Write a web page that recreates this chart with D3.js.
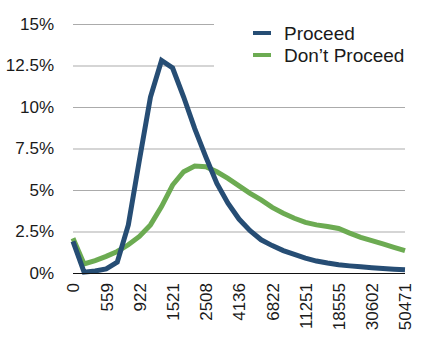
<!DOCTYPE html>
<html>
<head>
<meta charset="utf-8">
<script src="https://cdn.jsdelivr.net/npm/d3@7"></script>
<style>
  body { margin: 0; background: #fff; }
  text { font-family: "Liberation Sans", Arial, Helvetica, sans-serif; fill: #1a1a1a; }
</style>
</head>
<body>
<div id="chart"></div>
<script>
// bins (only every third one gets a label)
var categories = ["0", "401", "473", "559", "660", "780", "922", "1089", "1287", "1521",
    "1796", "2122", "2508", "2962", "3500", "4136", "4886", "5773", "6822", "8059",
    "9521", "11251", "13291", "15702", "18555", "21920", "25895", "30602", "36151", "42707", "50471"];

// share of deals in each bin, %
var proceed = [1.9, 0.05, 0.12, 0.25, 0.65, 2.9, 6.8, 10.6, 12.8, 12.35,
    10.6, 8.7, 7.0, 5.4, 4.2, 3.25, 2.55, 2.0, 1.65, 1.35,
    1.12, 0.9, 0.72, 0.6, 0.5, 0.43, 0.37, 0.32, 0.27, 0.23, 0.2];
var dontProceed = [2.1, 0.55, 0.75, 1.0, 1.3, 1.7, 2.2, 2.9, 4.0, 5.3,
    6.1, 6.45, 6.4, 6.1, 5.7, 5.25, 4.8, 4.4, 3.95, 3.6,
    3.3, 3.05, 2.9, 2.8, 2.68, 2.4, 2.15, 1.95, 1.75, 1.55, 1.35];

var yTicks = [0, 2.5, 5, 7.5, 10, 12.5, 15];
var seriesNames = ["Proceed", "Don\u2019t Proceed"];
var seriesColors = ["#264d74", "#6cab52"];

var width = 431, height = 341;
var svg = d3.select("#chart").append("svg")
    .attr("width", width)
    .attr("height", height);

var x = d3.scalePoint()
    .domain(d3.range(categories.length))
    .range([73, 405]);
var y = d3.scaleLinear()
    .domain([0, 15])
    .range([273, 24]);

// gridlines
svg.append("g")
    .selectAll("line")
    .data(yTicks.filter(function (d) { return d > 0; }))
    .enter().append("line")
    .attr("x1", 73)
    .attr("x2", 405)
    .attr("y1", function (d) { return y(d) + 0.5; })
    .attr("y2", function (d) { return y(d) + 0.5; })
    .attr("stroke", "#ababab")
    .attr("stroke-width", 1);

// y axis labels
var yAxis = svg.append("g")
    .attr("transform", "translate(54,0)")
    .call(d3.axisLeft(y).tickValues(yTicks).tickSize(0).tickPadding(0)
        .tickFormat(function (d) { return d + "%"; }));
yAxis.select(".domain").remove();
yAxis.selectAll("text").style("font-size", "17px").attr("fill", "#1a1a1a");

// x axis labels
var xAxis = svg.append("g")
    .attr("transform", "translate(0,273)")
    .call(d3.axisBottom(x).tickSize(0)
        .tickValues(d3.range(0, categories.length, 3))
        .tickFormat(function (i) { return categories[i]; }));
xAxis.select(".domain").remove();
xAxis.selectAll("text")
    .style("font-size", "17px")
    .attr("fill", "#1a1a1a")
    .attr("transform", "rotate(-90)")
    .attr("text-anchor", "end")
    .attr("x", -10)
    .attr("y", 0)
    .attr("dy", "0.35em");

// lines
var line = d3.line()
    .x(function (d, i) { return x(i); })
    .y(function (d) { return y(d); });

[dontProceed, proceed].forEach(function (s, k) {
    svg.append("path")
        .datum(s)
        .attr("fill", "none")
        .attr("stroke", seriesColors[1 - k])
        .attr("stroke-width", 5)
        .attr("stroke-linejoin", "miter")
        .attr("d", line);
});

// zero line
svg.append("line")
    .attr("x1", 73).attr("x2", 405)
    .attr("y1", 273.5).attr("y2", 273.5)
    .attr("stroke", "#111")
    .attr("stroke-width", 1);

// legend (white box covers the top gridlines)
var legend = svg.append("g");
legend.append("rect")
    .attr("x", 214).attr("y", 10)
    .attr("width", 210).attr("height", 64)
    .attr("fill", "#fff");
seriesNames.forEach(function (name, i) {
    legend.append("rect")
        .attr("x", 253).attr("y", 31 + i * 22)
        .attr("width", 18).attr("height", 4)
        .attr("fill", seriesColors[i]);
    legend.append("text")
        .attr("x", 284).attr("y", 40 + i * 22)
        .style("font-size", "19px")
        .text(name);
});
</script>
</body>
</html>
